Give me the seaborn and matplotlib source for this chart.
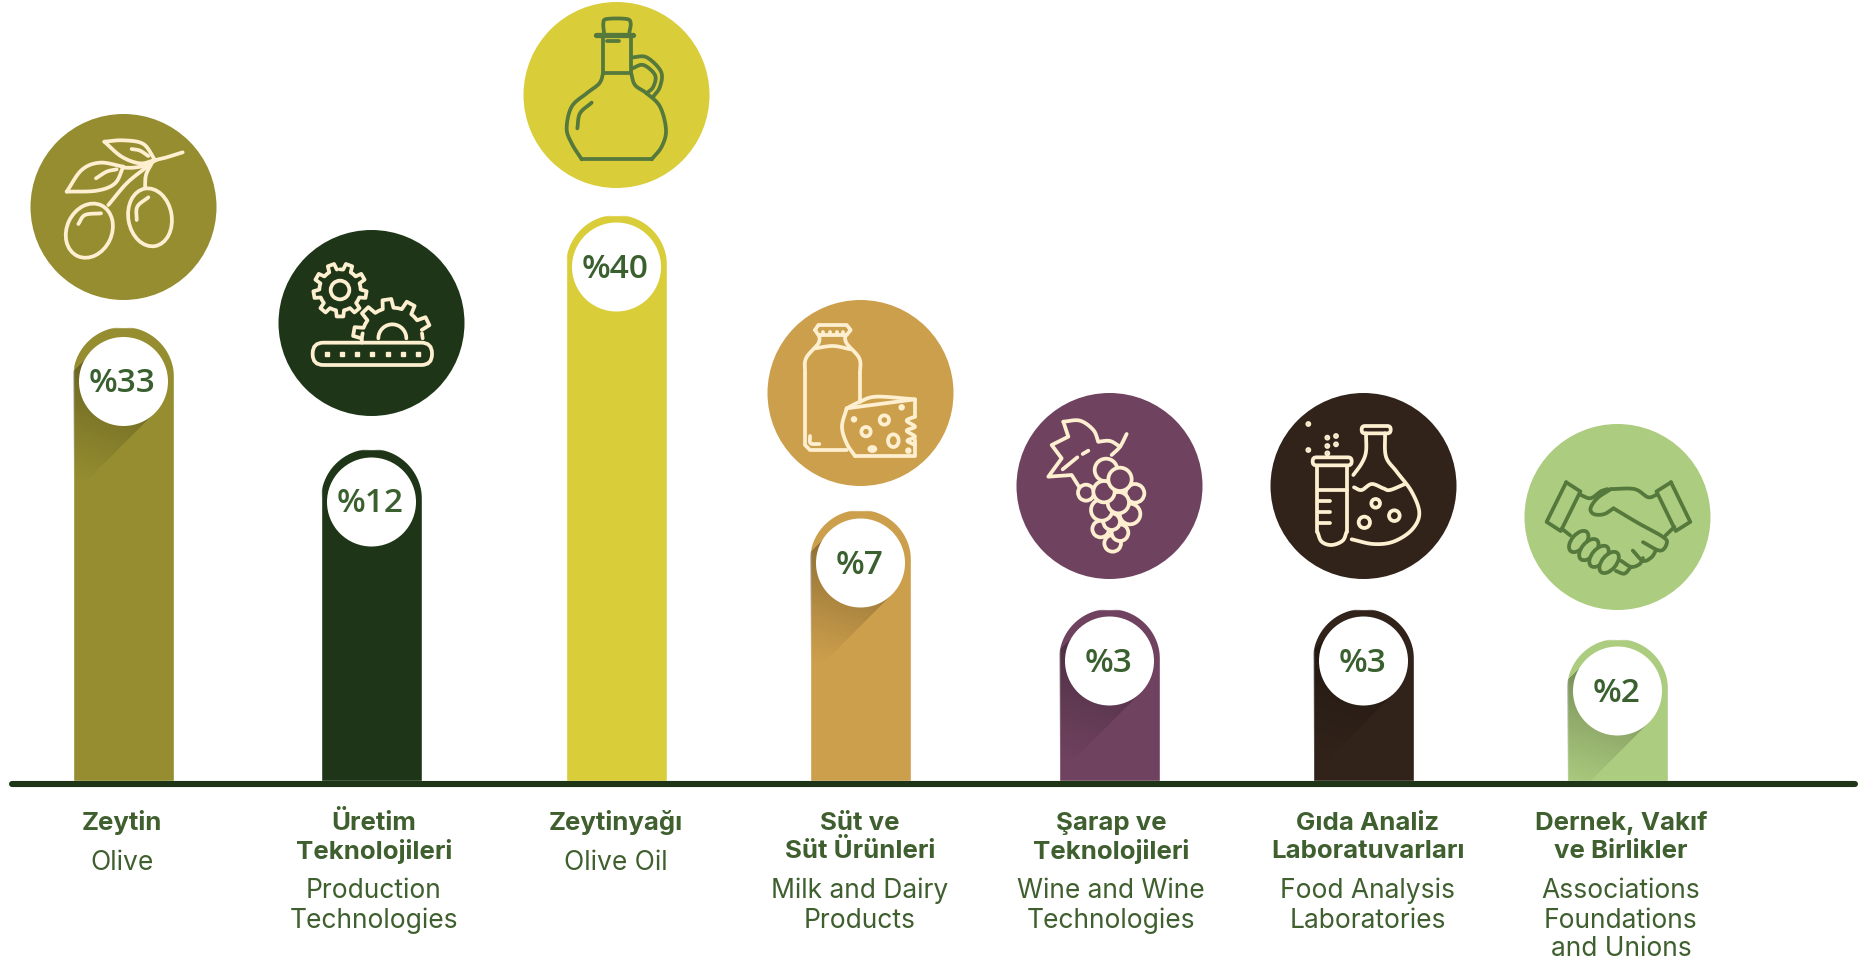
import matplotlib
matplotlib.use("Agg")
import matplotlib.pyplot as plt
import numpy as np
import pandas as pd
import seaborn as sns
from matplotlib.patches import Circle, Ellipse, FancyBboxPatch, PathPatch
from matplotlib.path import Path
from matplotlib.transforms import Affine2D

# values
names_tr = ["Zeytin", "Üretim\nTeknolojileri", "Zeytinyağı", "Süt ve\nSüt Ürünleri",
            "Şarap ve\nTeknolojileri", "Gıda Analiz\nLaboratuvarları", "Dernek, Vakıf\nve Birlikler"]
names_en = ["Olive", "Production\nTechnologies", "Olive Oil", "Milk and Dairy\nProducts",
            "Wine and Wine\nTechnologies", "Food Analysis\nLaboratories", "Associations\nFoundations\nand Unions"]
shares = [33, 12, 40, 7, 3, 3, 2]
bar_heights = [454, 332, 566, 271, 172, 172, 142]  # drawn height, not proportional to the share
colours = ["#958D30", "#1E3617", "#D9CD3A", "#CC9F4C", "#6F425F", "#31231A", "#ACCC7F"]

# layout, in pixels of the finished picture
WIDTH, HEIGHT = 1874, 965
BASE_Y = 781
BAR_W = 101
STEP = 248.33
centres = [123.5, 371.5, 616.5, 860.5, 1109.5, 1363.5, 1617.5]
label_x = [122, 374, 616, 860, 1111, 1368, 1621]
badge_y = [381.5, 502, 267, 563, 661, 661, 691]
disc_y = [207, 323, 95, 393, 486, 486, 517]
has_shadow = [True, False, False, True, True, True, True]

CREAM = "#FDEFCF"
LEAF = "#55783C"
TEXT = "#3F5F2F"
BADGE_TEXT = "#3A6030"
ICON_LW = 2.7


def smooth(pts, closed=False, n=14):
    """Catmull-Rom curve through the given points."""
    p = np.asarray(pts, float)
    if closed:
        p = np.vstack([p[-1], p, p[0], p[1]])
    else:
        p = np.vstack([2 * p[0] - p[1], p, 2 * p[-1] - p[-2]])
    t = np.linspace(0, 1, n, endpoint=False)[:, None]
    out = []
    for a, b, c, d in zip(p[:-3], p[1:-2], p[2:-1], p[3:]):
        out.append(0.5 * (2 * b + (c - a) * t + (2 * a - 5 * b + 4 * c - d) * t**2 + (3 * b - a - 3 * c + d) * t**3))
    out.append(p[-2][None])
    return np.vstack(out)


def bar_outline(cx, top, ax):
    """Bar shape with a true half circle on top, used as a clip path."""
    r = BAR_W / 2
    th = np.radians(np.linspace(180, 360, 60))
    xy = np.c_[cx + r * np.cos(th), top + r + r * np.sin(th)]
    xy = np.vstack([[cx - r, BASE_Y + 10], xy, [cx + r, BASE_Y + 10], [cx - r, BASE_Y + 10]])
    return PathPatch(Path(xy, closed=True), transform=ax.transData)


class Pen:
    """Draws one icon; coordinates are given in zoomed crop pixels from origin."""

    def __init__(self, ax, origin, scale, colour, face):
        self.ax = ax
        self.tr = Affine2D().scale(1 / scale).translate(*origin) + ax.transData
        self.colour = colour
        self.face = face

    def curve(self, pts, closed=False):
        xy = smooth(pts, closed)
        self.ax.plot(xy[:, 0], xy[:, 1], color=self.colour, lw=ICON_LW, transform=self.tr,
                     solid_capstyle="round", solid_joinstyle="round", zorder=6)

    def line(self, pts, lw=ICON_LW):
        xy = np.asarray(pts, float)
        self.ax.plot(xy[:, 0], xy[:, 1], color=self.colour, lw=lw, transform=self.tr,
                     solid_capstyle="round", solid_joinstyle="round", zorder=6)

    def ring(self, cx, cy, w, h=None, angle=0, fill=False):
        self.ax.add_patch(Ellipse((cx, cy), w, w if h is None else h, angle=angle, transform=self.tr,
                                  fc=self.colour if fill else self.face, ec=self.colour, lw=ICON_LW, zorder=6))

    def pill(self, x0, y0, x1, y1, r):
        self.ax.add_patch(FancyBboxPatch((x0, y0), x1 - x0, y1 - y0, boxstyle=f"round,pad=0,rounding_size={r}",
                                         transform=self.tr, fc="none", ec=self.colour, lw=ICON_LW, zorder=6))

    def gear(self, cx, cy, r_in, r_out, teeth, start, stop):
        step = 360 / teeth
        pts = []
        a = start
        while a < stop:
            for off, r in [(0, r_in), (0.22, r_in), (0.32, r_out), (0.68, r_out), (0.78, r_in)]:
                ang = np.radians(a + off * step)
                pts.append((cx + r * np.cos(ang), cy + r * np.sin(ang)))
            a += step
        self.line(pts)


def olive_icon(p):
    p.curve([(313, 125), (370, 121), (430, 132), (465, 180)])
    p.curve([(313, 125), (365, 170), (420, 190), (465, 180)])
    p.curve([(395, 147), (420, 152), (445, 168)])
    p.curve([(548, 157), (500, 172), (465, 182), (435, 205), (380, 250), (325, 315)])
    p.curve([(455, 190), (438, 225), (435, 265)])
    p.curve([(440, 197), (400, 203), (370, 203)])
    p.curve([(200, 275), (245, 210), (300, 188), (370, 200)])
    p.curve([(200, 275), (290, 272), (345, 250), (370, 200)])
    p.curve([(288, 235), (320, 215), (350, 208)])
    p.ring(268, 392, 135, 168, angle=25)
    p.curve([(235, 372), (255, 345), (303, 340)])
    p.ring(450, 352, 130, 175, angle=-10)
    p.curve([(410, 360), (412, 320), (445, 292)])


def gears_icon(p):
    p.gear(1020, 570, 62, 80, 9, -90, 270)
    p.ring(1020, 570, 56)
    p.gear(1177, 715, 92, 118, 10, 172, 350)
    p.line([(1085, 715), (1088, 700)])
    p.line([(1268, 715), (1266, 700)])
    th = np.radians(np.linspace(180, 360, 20))
    p.line(np.c_[1177 + 42 * np.cos(th), 715 + 42 * np.sin(th)])
    p.pill(938, 728, 1296, 795, 32)
    p.ax.plot(np.arange(980, 1260, 45.7), [761] * 7, ls="", marker="s", ms=3.4, color=p.colour,
              transform=p.tr, zorder=6)


def bottle_icon(p):
    p.curve([(312, 98), (310, 70), (320, 57), (380, 57), (392, 70), (388, 98)])
    p.line([(288, 105), (400, 105)], lw=3.8)
    p.line([(310, 112), (310, 218), (393, 218), (393, 112)])
    p.line([(322, 122), (358, 122)])
    p.line([(375, 122), (376, 122)])
    p.curve([(310, 218), (298, 250), (260, 280), (215, 320), (200, 385), (215, 430), (245, 478)])
    p.line([(245, 478), (455, 478)])
    p.curve([(455, 478), (485, 440), (498, 390), (480, 320), (440, 280), (405, 255), (393, 218)])
    p.curve([(397, 172), (440, 172), (483, 215), (480, 260), (460, 290)])
    p.curve([(397, 205), (430, 195), (465, 225), (460, 260), (440, 280)])
    p.curve([(275, 308), (240, 340), (232, 385)])


def dairy_icon(p):
    p.line([(945, 990), (955, 975), (1040, 975), (1052, 990), (1040, 1005), (955, 1005), (945, 990)])
    for x in (970, 990, 1010, 1030):
        p.line([(x, 996), (x, 1005)])
    p.curve([(958, 1005), (955, 1030), (918, 1075), (915, 1120)])
    p.line([(915, 1120), (915, 1335), (930, 1350), (1040, 1350)])
    p.curve([(1035, 1005), (1040, 1030), (1078, 1075), (1080, 1120)])
    p.line([(1080, 1120), (1080, 1205)])
    p.curve([(945, 1045), (1000, 1038), (1052, 1048)])
    p.curve([(930, 1308), (932, 1330), (958, 1332)])
    p.curve([(1040, 1225), (1080, 1205), (1130, 1190), (1245, 1198)])
    p.line([(1040, 1225), (1245, 1198), (1245, 1250)])
    p.curve([(1040, 1225), (1026, 1280), (1040, 1330), (1065, 1368)])
    p.line([(1065, 1368), (1245, 1368), (1245, 1320)])
    p.curve([(1245, 1250), (1220, 1262), (1245, 1280), (1220, 1292), (1245, 1310), (1222, 1322), (1245, 1335)])
    p.ring(1098, 1295, 28)
    p.ring(1153, 1260, 28)
    p.ring(1180, 1322, 32, 38)
    p.ring(1117, 1347, 18, 12, fill=True)
    for x, y in [(1062, 1258), (1205, 1222), (1225, 1352)]:
        p.ring(x, y, 8, fill=True)


def grape_icon(p):
    p.line([(190, 125), (205, 170), (155, 195), (185, 235), (145, 290), (215, 285), (240, 325)])
    p.curve([(190, 125), (240, 122), (280, 150), (295, 185)])
    p.curve([(295, 185), (330, 183), (360, 200)])
    p.curve([(380, 162), (360, 200), (335, 225)])
    p.line([(188, 268), (232, 232)])
    p.line([(248, 222), (265, 212)])
    grapes = [(338, 490, 50), (302, 447, 50), (360, 458, 50), (335, 425, 50), (390, 402, 62), (305, 390, 64),
              (405, 340, 56), (258, 338, 48), (318, 270, 68), (355, 368, 64), (312, 335, 64), (360, 298, 70)]
    for x, y, d in grapes:
        p.ring(x, y, d)


def flask_icon(p):
    p.pill(938, 232, 1055, 256, 11)
    p.line([(952, 258), (952, 455)])
    p.line([(1040, 258), (1040, 455)])
    p.curve([(952, 455), (965, 485), (995, 495), (1028, 482), (1040, 455)])
    p.line([(955, 330), (1040, 330)])
    for y in (362, 397, 430):
        p.line([(955, y), (990, y)])
    p.pill(1085, 138, 1172, 160, 10)
    p.curve([(1098, 160), (1098, 215), (1085, 250), (1060, 285)])
    p.curve([(1155, 160), (1158, 230), (1190, 275), (1235, 335), (1258, 400), (1235, 450), (1180, 485),
             (1120, 492), (1055, 478)])
    p.curve([(1062, 322), (1085, 330), (1115, 312), (1150, 325), (1170, 330), (1215, 312)])
    p.ring(1127, 370, 26)
    p.ring(1183, 407, 32)
    p.ring(1093, 427, 34)
    for x, y in [(925, 132), (925, 210), (982, 173), (1008, 168), (982, 198), (1008, 193), (982, 220)]:
        p.ring(x, y, 6, fill=True)


def handshake_icon(p):
    p.line([(938, 308), (980, 335), (922, 452), (880, 425), (938, 308)])
    p.line([(1248, 308), (1305, 425), (1262, 452), (1205, 335), (1248, 308)])
    p.curve([(980, 345), (1010, 355), (1040, 335), (1060, 328)])
    p.curve([(1205, 345), (1180, 352), (1140, 328), (1070, 328)])
    p.curve([(1070, 328), (1030, 355), (1010, 385), (1020, 402), (1050, 402), (1078, 385)])
    p.curve([(1078, 385), (1150, 428), (1225, 470), (1235, 490), (1215, 510), (1165, 485)])
    for x, y in [(975, 483), (1005, 507), (1035, 527), (1065, 545)]:
        p.ring(x, y, 42, 74, angle=40)
    p.curve([(1135, 510), (1165, 540), (1190, 530), (1203, 510)])
    p.curve([(1100, 540), (1130, 558), (1155, 550), (1165, 532)])
    p.curve([(1085, 570), (1110, 578), (1128, 560)])
    p.line([(925, 445), (950, 465)])
    p.line([(1258, 440), (1232, 465)])


# icon, colour of its strokes, origin and scale of the crop its coordinates come from
icons = [(olive_icon, CREAM, (0, 100), 3), (gears_icon, CREAM, (0, 100), 3), (bottle_icon, LEAF, (500, 0), 3),
         (dairy_icon, CREAM, (500, 0), 3), (grape_icon, CREAM, (1000, 380), 3), (flask_icon, CREAM, (1000, 380), 3),
         (handshake_icon, LEAF, (1249.1, 378.2), 2.958)]


def main():
    sns.set_theme(style="white")
    plt.rcParams["font.family"] = ["Inter", "DejaVu Sans"]

    fig = plt.figure(figsize=(WIDTH / 100, HEIGHT / 100), dpi=100, facecolor="white")
    ax = fig.add_axes([0, 0, 1, 1])
    px = fig.add_axes([0, 0, 1, 1], facecolor="none")

    bars_df = pd.DataFrame({"name": names_tr, "height": bar_heights})
    sns.barplot(data=bars_df, x="name", y="height", hue="name", palette=colours, dodge=False,
                width=BAR_W / STEP, saturation=1, legend=False, ax=ax)
    ax.set_xlim(-centres[0] / STEP, (WIDTH - centres[0]) / STEP)
    ax.set_ylim(BASE_Y - HEIGHT, BASE_Y)
    ax.axis("off")

    px.set_xlim(0, WIDTH)
    px.set_ylim(HEIGHT, 0)
    px.axis("off")

    for i, bar in enumerate(ax.patches):
        cx = centres[i]
        top = BASE_Y - bar_heights[i]
        # seaborn spaces the bars evenly, the picture does not quite
        bar.set_x((cx - centres[0]) / STEP - bar.get_width() / 2)
        cap = bar_outline(cx, top, px)
        bar.set_clip_path(cap)

        if has_shadow[i]:
            left = int(cx - BAR_W / 2)
            yy, xx = np.mgrid[top:BASE_Y, left:left + BAR_W + 1]
            dx, dy = xx - cx, yy - badge_y[i]
            along = (-dx + dy) * 0.70
            across = (dx + dy) * 0.71
            fade = dy * 0.9 - dx * 0.3
            alpha = np.clip(1 - fade / 105, 0, 1) ** 1.2 * 0.28
            alpha[(np.abs(across) > 44) | (along < 0)] = 0
            rgba = np.zeros(xx.shape + (4,))
            rgba[..., 3] = alpha
            img = px.imshow(rgba, extent=(left, left + BAR_W + 1, BASE_Y, top), aspect="auto",
                            interpolation="bilinear", zorder=2)
            img.set_clip_path(bar_outline(cx, top, px))

        px.add_patch(Circle((cx, badge_y[i]), 44.5, fc="white", ec="none", zorder=3))
        px.text(cx - 1, badge_y[i] + 10.5, f"%{shares[i]}", ha="center", va="baseline", color=BADGE_TEXT,
                fontsize=24, family=["Open Sans", "DejaVu Sans"], fontweight="semibold", zorder=4)

        px.add_patch(Circle((cx, disc_y[i]), 93, fc=colours[i], ec="none", zorder=5))
        draw_icon, stroke_colour, origin, scale = icons[i]
        draw_icon(Pen(px, origin, scale, stroke_colour, colours[i]))

        y = 830
        for line in names_tr[i].split("\n"):
            px.text(label_x[i], y, line, ha="center", va="baseline", color=TEXT, fontsize=18.6, fontweight="bold")
            y += 28.5
        y += 11.5
        for line in names_en[i].split("\n"):
            px.text(label_x[i], y, line, ha="center", va="baseline", color=TEXT, fontsize=19)
            y += 29

    px.plot([12, 1855], [784, 784], color="#1E3617", lw=4.4, solid_capstyle="round", zorder=4)
    px.set_xlim(0, WIDTH)
    px.set_ylim(HEIGHT, 0)

    fig.savefig("out.png", dpi=100)
    plt.close(fig)


if __name__ == "__main__":
    main()
